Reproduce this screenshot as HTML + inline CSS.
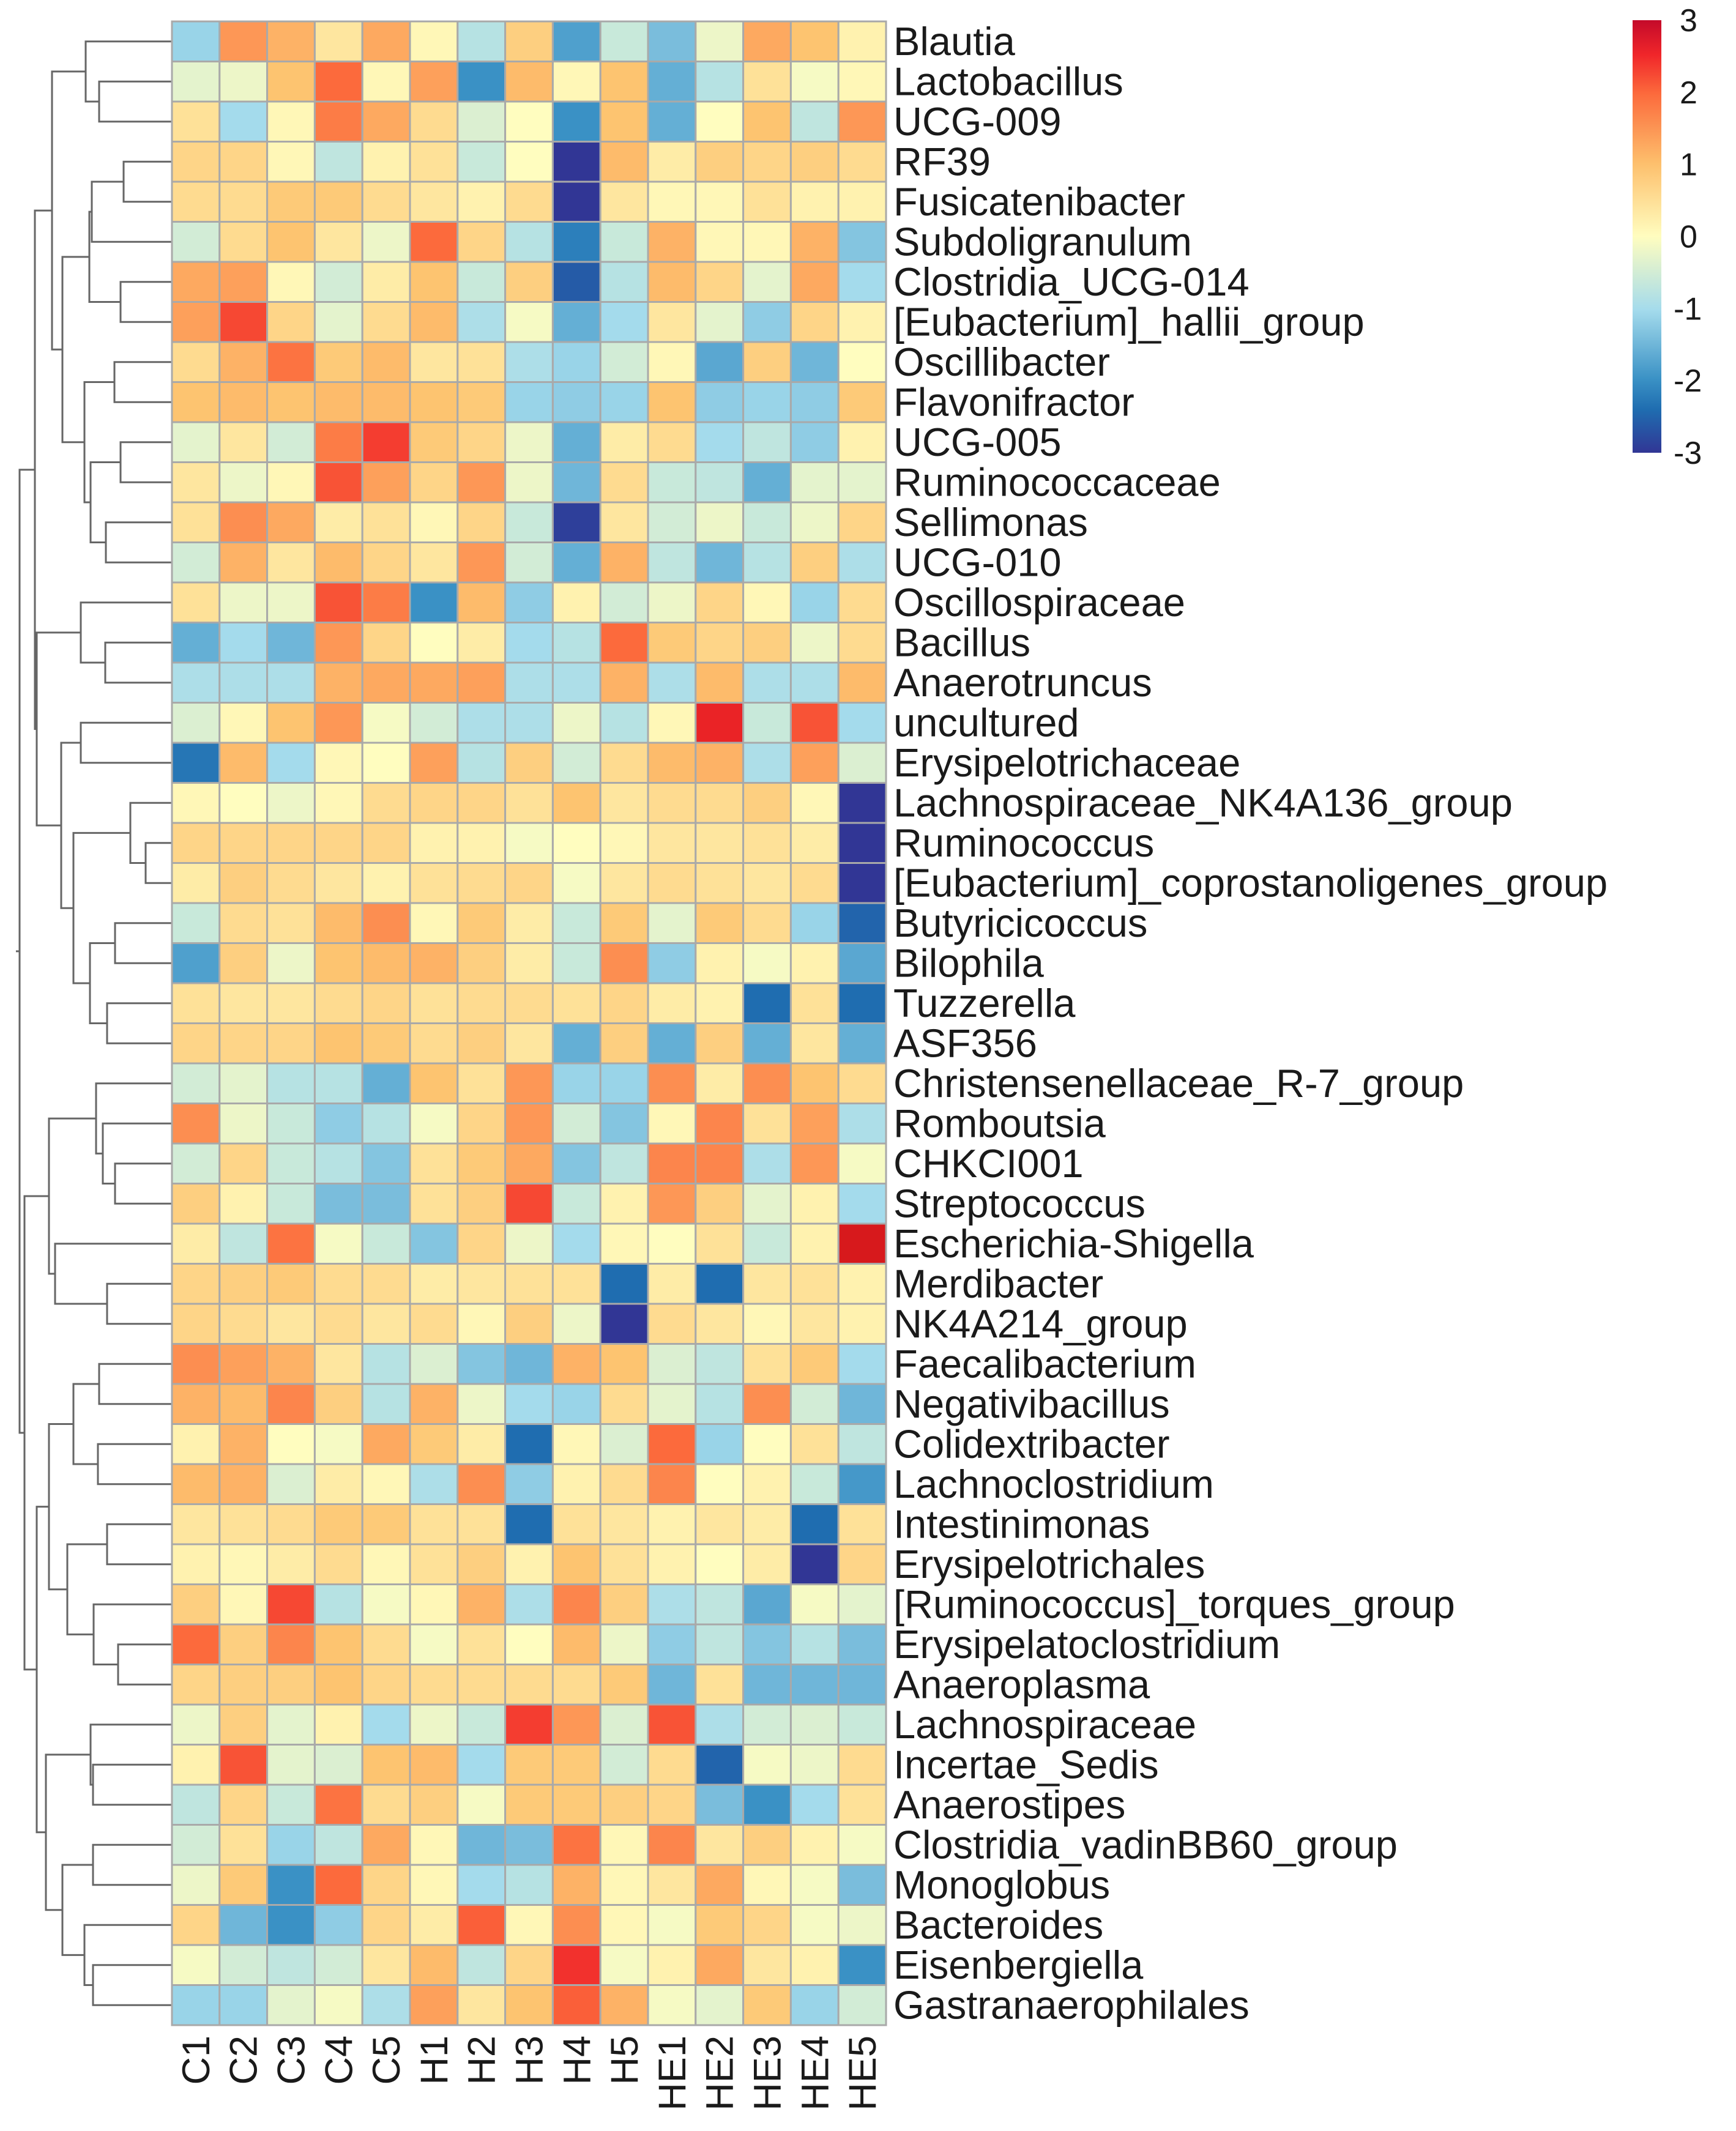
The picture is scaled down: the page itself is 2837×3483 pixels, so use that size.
<!DOCTYPE html>
<html><head><meta charset="utf-8"><style>
html,body{margin:0;padding:0;background:#fff}
svg{display:block}
text{font-family:"Liberation Sans",sans-serif;fill:#1a1a1a}
</style></head><body>
<svg id="chart" width="2837" height="3483" viewBox="0 0 2837 3483" xmlns="http://www.w3.org/2000/svg">
<defs>
<linearGradient id="lg" x1="0" y1="0" x2="0" y2="1">
<stop offset="0" stop-color="#c40a2a"/>
<stop offset="0.08" stop-color="#f0262a"/>
<stop offset="0.17" stop-color="#fc6a3c"/>
<stop offset="0.33" stop-color="#fdbf6c"/>
<stop offset="0.5" stop-color="#fffdbf"/>
<stop offset="0.67" stop-color="#a4dbec"/>
<stop offset="0.83" stop-color="#3a91c5"/>
<stop offset="0.9" stop-color="#1f6db0"/>
<stop offset="1" stop-color="#313695"/>
</linearGradient>
</defs>
<g id="dendro"></g>
<g id="cells"></g>
<g id="rowlabels"></g>
<g id="collabels"></g>
<g id="legend">
<rect x="2668" y="33" width="47" height="707" fill="url(#lg)"/>
</g>
</svg>
<script>
const rowNames=["Blautia","Lactobacillus","UCG-009","RF39","Fusicatenibacter","Subdoligranulum","Clostridia_UCG-014","[Eubacterium]_hallii_group","Oscillibacter","Flavonifractor","UCG-005","Ruminococcaceae","Sellimonas","UCG-010","Oscillospiraceae","Bacillus","Anaerotruncus","uncultured","Erysipelotrichaceae","Lachnospiraceae_NK4A136_group","Ruminococcus","[Eubacterium]_coprostanoligenes_group","Butyricicoccus","Bilophila","Tuzzerella","ASF356","Christensenellaceae_R-7_group","Romboutsia","CHKCI001","Streptococcus","Escherichia-Shigella","Merdibacter","NK4A214_group","Faecalibacterium","Negativibacillus","Colidextribacter","Lachnoclostridium","Intestinimonas","Erysipelotrichales","[Ruminococcus]_torques_group","Erysipelatoclostridium","Anaeroplasma","Lachnospiraceae","Incertae_Sedis","Anaerostipes","Clostridia_vadinBB60_group","Monoglobus","Bacteroides","Eisenbergiella","Gastranaerophilales"];
const colNames=["C1","C2","C3","C4","C5","H1","H2","H3","H4","H5","HE1","HE2","HE3","HE4","HE5"];
const legendTicks=[3,2,1,0,-1,-2,-3];
const values=[
[-1.1,1.5,1.2,0.4,1.3,0.1,-0.8,0.8,-1.8,-0.6,-1.4,-0.2,1.3,1.0,0.2],
[-0.3,-0.2,1.0,2.0,0.1,1.4,-2.0,1.1,0.1,1.0,-1.6,-0.8,0.5,-0.1,0.1],
[0.5,-1.0,0.1,1.8,1.3,0.6,-0.4,0.0,-2.0,1.0,-1.6,0.0,1.0,-0.7,1.5],
[0.7,0.7,0.1,-0.7,0.2,0.5,-0.6,0.0,-3.0,1.1,0.3,0.8,0.7,0.8,0.6],
[0.6,0.6,0.9,0.9,0.6,0.4,0.2,0.6,-3.0,0.4,0.1,0.1,0.5,0.2,0.2],
[-0.5,0.6,1.0,0.4,-0.2,2.0,0.7,-0.8,-2.2,-0.6,1.2,0.1,0.1,1.2,-1.3],
[1.3,1.4,0.1,-0.5,0.3,1.0,-0.6,0.8,-2.6,-0.8,1.1,0.7,-0.3,1.3,-1.0],
[1.4,2.3,0.7,-0.3,0.6,1.1,-0.9,-0.1,-1.6,-1.0,0.4,-0.3,-1.2,0.7,0.2],
[0.6,1.2,1.9,0.9,1.1,0.4,0.5,-0.9,-1.1,-0.5,0.1,-1.7,0.8,-1.5,0.0],
[1.0,1.1,1.0,1.1,1.1,1.0,0.9,-1.1,-1.2,-1.1,1.0,-1.2,-1.1,-1.2,0.9],
[-0.3,0.4,-0.5,1.8,2.4,0.9,0.7,-0.2,-1.6,0.3,0.6,-1.0,-0.7,-1.2,0.2],
[0.4,-0.2,0.1,2.2,1.4,0.7,1.5,-0.2,-1.5,0.6,-0.6,-0.7,-1.6,-0.3,-0.3],
[0.5,1.6,1.3,0.3,0.5,0.1,0.7,-0.6,-2.9,0.4,-0.5,-0.2,-0.6,-0.2,0.7],
[-0.5,1.2,0.4,1.1,0.7,0.4,1.5,-0.5,-1.6,1.2,-0.7,-1.5,-0.8,0.8,-0.9],
[0.5,-0.2,-0.2,2.2,1.8,-2.0,1.1,-1.2,0.2,-0.5,-0.2,0.7,0.1,-1.1,0.6],
[-1.6,-1.0,-1.5,1.5,0.7,0.0,0.3,-1.0,-0.8,2.0,0.9,0.7,0.8,-0.2,0.6],
[-0.9,-0.9,-0.9,1.2,1.3,1.3,1.4,-0.9,-0.9,1.2,-0.9,1.1,-0.9,-0.9,1.1],
[-0.4,0.1,1.0,1.5,-0.1,-0.5,-0.9,-0.9,-0.2,-0.8,0.1,2.7,-0.6,2.2,-1.0],
[-2.3,1.1,-1.0,0.1,0.0,1.4,-0.8,0.8,-0.5,0.6,1.1,1.2,-0.9,1.4,-0.4],
[0.1,0.0,-0.2,0.1,0.6,0.7,0.7,0.5,1.0,0.4,0.6,0.6,0.8,0.1,-3.0],
[0.7,0.7,0.7,0.7,0.7,0.2,0.2,-0.1,0.0,0.1,0.4,0.4,0.5,0.3,-3.0],
[0.3,0.8,0.6,0.4,0.2,0.5,0.6,0.7,-0.1,0.4,0.6,0.5,0.4,0.6,-3.0],
[-0.6,0.6,0.5,1.1,1.6,0.1,0.9,0.3,-0.6,0.9,-0.3,0.9,0.6,-1.1,-2.5],
[-1.8,0.8,-0.2,1.0,1.1,1.2,0.8,0.3,-0.6,1.6,-1.2,0.2,-0.1,0.2,-1.7],
[0.5,0.4,0.4,0.6,0.7,0.5,0.6,0.6,0.5,0.7,0.3,0.2,-2.4,0.5,-2.4],
[0.7,0.7,0.7,1.0,0.9,0.6,0.8,0.4,-1.6,0.8,-1.6,0.8,-1.6,0.4,-1.6],
[-0.5,-0.3,-0.8,-0.8,-1.6,1.0,0.5,1.5,-1.1,-1.1,1.6,0.3,1.6,1.0,0.6],
[1.6,-0.2,-0.6,-1.2,-0.8,-0.1,0.7,1.5,-0.5,-1.3,0.1,1.7,0.5,1.4,-0.9],
[-0.5,0.7,-0.6,-0.8,-1.3,0.5,0.9,1.3,-1.3,-0.7,1.7,1.7,-0.9,1.5,-0.1],
[0.8,0.2,-0.6,-1.4,-1.4,0.5,0.8,2.3,-0.6,0.2,1.5,0.8,-0.3,0.2,-1.0],
[0.3,-0.7,1.9,-0.1,-0.6,-1.3,0.7,-0.2,-1.0,0.1,0.0,0.5,-0.6,0.2,3.0],
[0.7,0.8,0.9,0.6,0.6,0.3,0.4,0.5,0.5,-2.4,0.3,-2.4,0.4,0.5,0.2],
[0.7,0.6,0.4,0.6,0.4,0.6,0.1,0.8,-0.2,-3.0,0.6,0.4,0.1,0.4,0.2],
[1.6,1.4,1.2,0.4,-0.8,-0.4,-1.3,-1.5,1.2,1.0,-0.4,-0.7,0.5,0.9,-1.0],
[1.2,1.1,1.7,0.8,-0.8,1.2,-0.2,-1.0,-1.1,0.6,-0.3,-0.8,1.6,-0.5,-1.5],
[0.2,1.2,0.0,-0.1,1.3,0.9,0.3,-2.4,0.1,-0.4,2.0,-1.1,0.0,0.5,-0.7],
[1.1,1.2,-0.4,0.3,0.1,-0.9,1.6,-1.2,0.2,0.6,1.7,0.0,0.2,-0.6,-1.9],
[0.4,0.5,0.6,0.9,0.9,0.5,0.5,-2.4,0.5,0.4,0.2,0.4,0.3,-2.4,0.5],
[0.2,0.1,0.3,0.6,0.1,0.5,0.8,0.2,1.0,0.5,0.2,0.0,0.3,-3.0,0.7],
[0.8,0.1,2.3,-0.8,-0.1,0.1,1.2,-0.9,1.7,0.8,-0.9,-0.7,-1.7,-0.1,-0.3],
[2.0,0.8,1.7,1.0,0.6,-0.1,0.5,0.0,1.1,-0.2,-1.2,-0.7,-1.3,-0.8,-1.4],
[0.7,0.8,0.8,1.0,0.7,0.6,0.6,0.6,0.6,0.9,-1.5,0.5,-1.5,-1.5,-1.5],
[-0.2,0.8,-0.3,0.2,-1.0,-0.2,-0.6,2.4,1.5,-0.4,2.2,-0.9,-0.5,-0.4,-0.6],
[0.2,2.2,-0.3,-0.4,1.0,1.1,-1.0,0.9,0.9,-0.5,0.6,-2.5,-0.1,-0.2,0.6],
[-0.7,0.7,-0.6,1.9,0.6,0.8,-0.1,0.9,0.9,0.8,0.7,-1.4,-2.0,-1.0,0.5],
[-0.5,0.5,-1.1,-0.7,1.3,0.1,-1.5,-1.4,1.9,0.1,1.7,0.4,0.8,0.2,-0.1],
[-0.2,0.9,-2.0,2.0,0.7,0.1,-1.0,-0.8,1.2,0.1,0.4,1.3,0.1,-0.1,-1.4],
[0.7,-1.5,-2.0,-1.2,0.7,0.3,2.1,0.1,1.6,0.1,-0.1,0.9,0.7,-0.1,-0.2],
[-0.1,-0.5,-0.7,-0.5,0.4,1.1,-0.7,0.7,2.5,-0.1,0.2,1.3,0.4,0.2,-2.0],
[-1.1,-1.1,-0.3,-0.1,-0.9,1.4,0.4,1.0,2.1,1.2,-0.1,-0.3,0.9,-1.1,-0.5]
];
const NS="http://www.w3.org/2000/svg";
const X0=281,X1=1448,Y0=35,Y1=3310;
const cw=(X1-X0)/colNames.length, rh=(Y1-Y0)/rowNames.length;
function xPos(c){return X0+c*cw;}
function yPos(r){return Y0+r*rh;}
const stops=[[-3,[49,54,149]],[-2.4,[31,109,176]],[-2,[58,145,197]],[-1,[164,219,236]],[0,[255,253,191]],[1,[253,196,112]],[2,[252,106,60]],[2.6,[240,38,42]],[3,[215,25,28]]];
function color(v){
  v=Math.max(-3,Math.min(3,v));
  for(let i=0;i<stops.length-1;i++){
    const a=stops[i],b=stops[i+1];
    if(v<=b[0]){const t=(v-a[0])/(b[0]-a[0]);
      const c=a[1].map((x,k)=>Math.round(x+(b[1][k]-x)*t));
      return "rgb("+c.join(",")+")";}
  }
  return "rgb(215,25,28)";
}
function mk(tag,attrs,parent){const e=document.createElementNS(NS,tag);for(const k in attrs)e.setAttribute(k,attrs[k]);parent.appendChild(e);return e;}
const cells=document.getElementById('cells');
values.forEach((row,r)=>row.forEach((v,c)=>{
  const el=mk('rect',{x:xPos(c),y:yPos(r),width:cw,height:rh,fill:color(v),stroke:'#a9a9a9','stroke-width':3},cells);
  
  
}));
const rl=document.getElementById('rowlabels');
rowNames.forEach((n,r)=>{
  const t=mk('text',{x:1460,y:yPos(r)+rh/2+22,'font-size':65},rl);
  t.textContent=n;
  
  
});
const cl=document.getElementById('collabels');
colNames.forEach((n,c)=>{
  const cx=xPos(c)+cw/2+22;
  const t=mk('text',{x:cx,y:3327,'font-size':63,'text-anchor':'end',transform:'rotate(-90 '+cx+' 3327)'},cl);
  t.textContent=n;
  
  
});
const lg=document.getElementById('legend');
legendTicks.forEach(v=>{
  const y=33+(3-v)/6*707;
  const t=mk('text',{x:v<0?2735:2745,y:y+18,'font-size':52},lg);
  t.textContent=String(v);
  
  
});
function n(a,b,x){return [a,b,x];}
const A1=n(0,n(1,2,162),140);
const A2=n(n(n(3,4,202),5,150),n(6,7,197),146);
const A3=n(n(8,9,187),n(n(10,11,197),n(12,13,173),148),138);
const A=n(A1,n(A2,A3,102),85);
const B1=n(14,n(15,16,172),132);
const B2=n(n(17,18,132),n(n(19,n(20,21,238),213),n(n(22,23,188),n(24,25,175),147),120),100);
const TOP=n(A,n(B1,B2,60),57);
const C1=n(n(26,n(27,n(28,29,188),168),157),n(30,n(31,32,175),90),80);
const D=n(n(n(33,34,162),n(35,36,160),120),n(n(37,38,175),n(39,n(40,41,193),153),110),80);
const E=n(n(42,n(43,44,152),148),n(n(45,46,152),n(47,n(48,49,152),138),102),75);
const ROOT=n(TOP,n(C1,n(D,E,60),40),32);
const dg=document.getElementById('dendro');
function draw(node){
  if(typeof node==='number') return {y:yPos(node)+rh/2,x:X0};
  const L=draw(node[0]),R=draw(node[1]),x=node[2];
  const p=mk('path',{d:'M'+L.x+' '+L.y+'H'+x+'V'+R.y+'H'+R.x,fill:'none',stroke:'#666','stroke-width':3},dg);
  
  
  return {y:(L.y+R.y)/2,x:x};
}
const r=draw(ROOT);
const rootLine=mk('path',{d:'M'+r.x+' '+r.y+'H'+(r.x-6),fill:'none',stroke:'#666','stroke-width':3},dg);


</script>
</body></html>
